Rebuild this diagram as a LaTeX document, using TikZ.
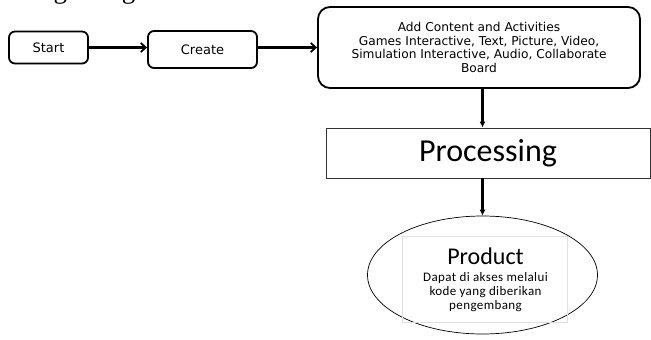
\documentclass[tikz,border=0pt]{standalone}
\usepackage{fontspec}
\newfontfamily\carl{Carlito}
\newfontfamily\carlsp{Carlito}[LetterSpace=3]
\newfontfamily\dvs{DejaVu Sans}
\newfontfamily\lserif{Liberation Serif}
\usetikzlibrary{arrows.meta,shapes.geometric,shadows}
\begin{document}
\begin{tikzpicture}[x=1pt,y=-1pt,
  rbox/.style={draw=black,line width=1.8pt,rounded corners=6pt,align=center,inner sep=0pt,
    font=\dvs\fontsize{13}{14}\selectfont,
    drop shadow={shadow xshift=0.8pt,shadow yshift=-0.8pt,opacity=0.35,fill=gray}, fill=white},
  harr/.style={line width=2.2pt,-{Straight Barb[length=5pt,width=9pt,line width=1.8pt]}},
  varr/.style={line width=2.2pt,-{Latex[length=6pt,width=6pt]}}]
\useasboundingbox (0,0) rectangle (651,340);
\begin{scope}
\clip (0,0) rectangle (651,340);
\node[anchor=base west,font=\lserif\fontsize{27}{30}\selectfont,inner sep=0pt] (title) at (4,-1.2) {Design Stage};
\end{scope}
\node[rbox,minimum width=79pt,minimum height=32pt] (start) at (48.5,47.5) {Start};
\node[rbox,minimum width=109pt,minimum height=37pt] (create) at (202.5,49.5) {Create};
\node[rbox,rounded corners=12pt,minimum width=322pt,minimum height=81pt,
  font=\dvs\fontsize{12.2}{13.7}\selectfont] (add) at (479,47.5)
  {Add Content and Activities\\Games Interactive, Text, Picture, Video,\\Simulation Interactive, Audio, Collaborate\\Board};
\node[draw=black!80,line width=0.8pt,minimum width=324pt,minimum height=50pt,inner sep=0pt,
  font=\carl\fontsize{32}{34}\selectfont] (proc) at (488,153) {Processing};
\node[draw=black,line width=0.7pt,ellipse,minimum width=230pt,minimum height=118pt,inner sep=0pt] (ell) at (482.5,275) {};
\node[draw=black!12,line width=0.5pt,minimum width=165pt,minimum height=86pt,inner sep=0pt] (inner) at (484.5,279) {};
\node[font=\carl\fontsize{24}{26}\selectfont,inner sep=0pt] (prod) at (485.5,256) {Product};
\node[font=\carlsp\fontsize{13}{14}\selectfont,align=center,inner sep=0pt] (desc) at (485.5,292)
  {Dapat di akses melalui\\kode yang diberikan\\pengembang};
\draw[harr] (start.east) -- (start.east -| create.west);
\draw[harr] (create.east |- add.west) -- (add.west);
\draw[varr] (add.south -| ell.north) -- (proc.north -| ell.north);
\draw[varr] (proc.south -| ell.north) -- (ell.north);
\end{tikzpicture}
\end{document}
